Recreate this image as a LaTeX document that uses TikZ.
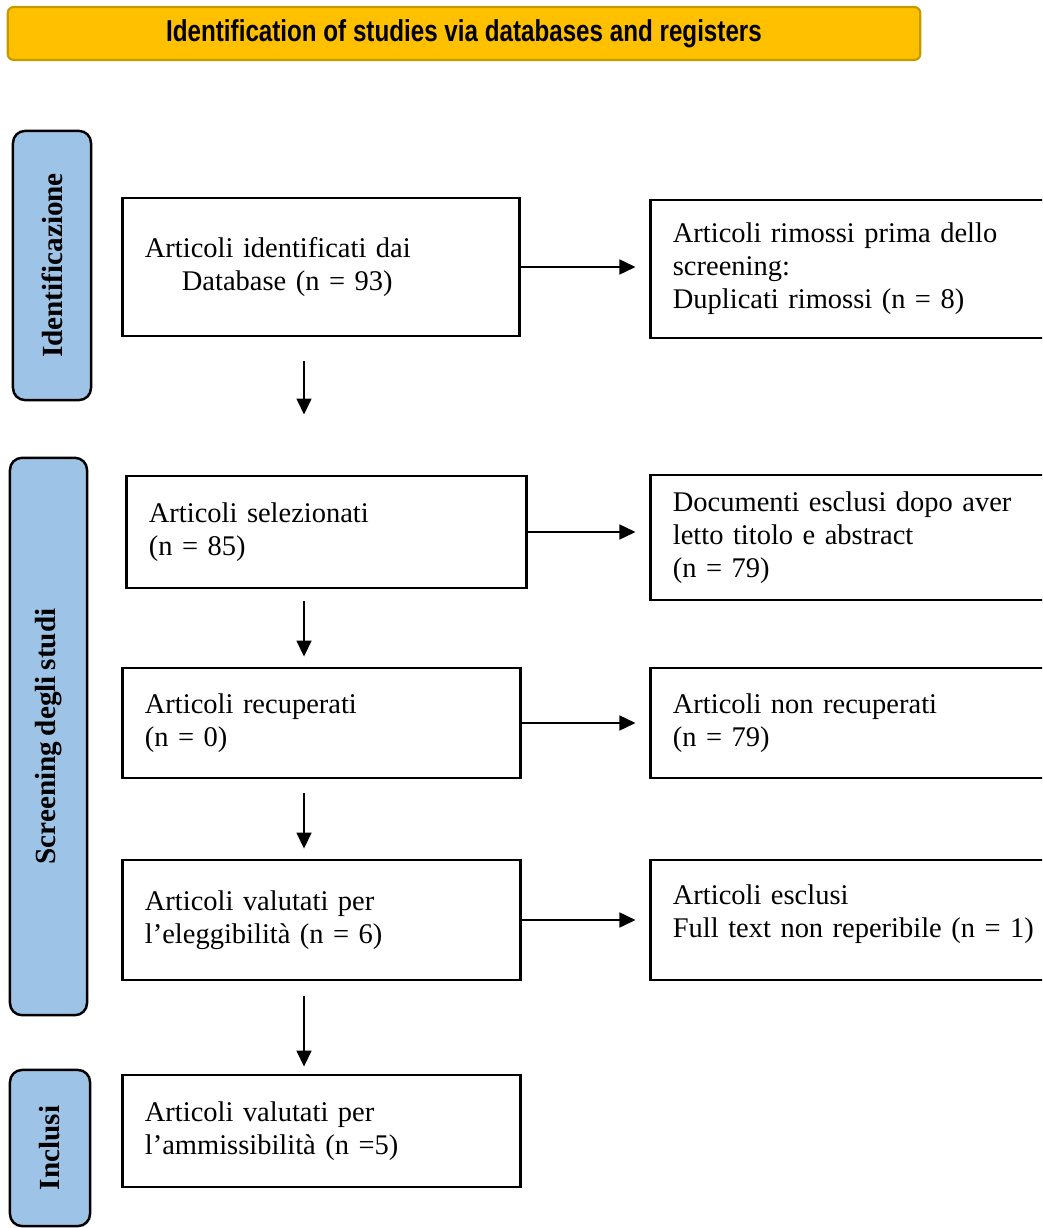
\documentclass[tikz,border=0pt]{standalone}
\usepackage{fontspec}
\setmainfont[WordSpace=0.8]{Liberation Serif}
\newfontfamily\headfont{Liberation Sans}
\usetikzlibrary{arrows.meta}

\definecolor{sidefill}{HTML}{9DC3E6}
\definecolor{headfill}{HTML}{FFC000}
\definecolor{headline}{HTML}{C49A00}

\tikzset{
  box/.style={draw, line width=0.8pt, inner xsep=0.22cm, inner ysep=0pt, align=left,
    font=\fontsize{8.1}{9.4}\selectfont},
  sidebox/.style={draw, line width=0.7pt, fill=sidefill, rounded corners=0.12cm, rotate=90,
    font=\fontsize{8.3}{9.4}\selectfont\bfseries},
  arr/.style={-{Triangle[length=0.16cm,width=0.15cm]}, line width=0.45pt},
}

\begin{document}
\begin{tikzpicture}[x=0.01cm, y=-0.01cm]
        \useasboundingbox (0,0) rectangle (1042,1228);
        \clip (0,0) rectangle (1042,1228);

        % Coordinates
        \coordinate (ax) at (304, 0);

        % Header and phases
        \node[draw=headline, fill=headfill, line width=0.6pt, rounded corners=0.06cm,
          minimum width=9.12cm, minimum height=0.53cm,
          font=\headfont\bfseries\fontsize{8.6}{9}\selectfont] (head) at (464, 33.5)
          {\scalebox{0.8}[1]{Identification of studies via databases and registers}};
        \node[sidebox, minimum width=2.69cm, minimum height=0.78cm] (sid) at (52, 265.5) {Identificazione};
        \node[sidebox, minimum width=5.57cm, minimum height=0.77cm] (sscr) at (48.5, 736.5) {Screening degli studi};
        \node[sidebox, minimum width=1.56cm, minimum height=0.80cm] (sinc) at (50, 1148) {Inclusi};

        % Boxes
        \node[box, text width=3.52cm, minimum height=1.38cm] (b1) at (321, 267)
          {Articoli identificati dai\\\hspace*{0.37cm}Database (n = 93)};
        \node[box, text width=3.55cm, minimum height=1.12cm] (b2) at (326.5, 532)
          {Articoli selezionati\\(n = 85)};
        \node[box, text width=3.53cm, minimum height=1.10cm] (b3) at (321.5, 723)
          {Articoli recuperati\\(n = 0)};
        \node[box, text width=3.53cm, minimum height=1.20cm] (b4) at (321.5, 920)
          {Articoli valutati per\\l’eleggibilità (n = 6)};
        \node[box, text width=3.53cm, minimum height=1.12cm] (b5) at (321.5, 1131)
          {Articoli valutati per\\l’ammissibilità (n =5)};

        \node[box, text width=4.05cm, minimum height=1.38cm] (r1) at (875.5, 269)
          {Articoli rimossi prima dello\\screening:\\Duplicati rimossi (n = 8)};
        \node[box, text width=4.05cm, minimum height=1.25cm] (r2) at (875.5, 537.5)
          {\makebox[3.52cm][s]{Documenti esclusi dopo aver}\\letto titolo e abstract\\(n = 79)};
        \node[box, text width=4.05cm, minimum height=1.10cm] (r3) at (875.5, 723)
          {Articoli non recuperati\\(n = 79)};
        \node[box, text width=4.05cm, minimum height=1.20cm] (r4) at (875.5, 920)
          {Articoli esclusi\\Full text non reperibile (n = 1)\\[-0.15cm]\mbox{}};

        % Arrows
        \draw[arr, shorten <=0.24cm, shorten >=0.60cm] (b1.south -| ax) -- (b2.north -| ax);
        \draw[arr, shorten <=0.12cm, shorten >=0.10cm] (b2.south -| ax) -- (b3.north -| ax);
        \draw[arr, shorten <=0.14cm, shorten >=0.10cm] (b3.south -| ax) -- (b4.north -| ax);
        \draw[arr, shorten <=0.15cm, shorten >=0.07cm] (b4.south -| ax) -- (b5.north -| ax);
        \draw[arr, shorten >=0.14cm] (b1.east) -- (b1.east -| r1.west);
        \draw[arr, shorten >=0.14cm] (b2.east) -- (b2.east -| r2.west);
        \draw[arr, shorten >=0.14cm] (b3.east) -- (b3.east -| r3.west);
        \draw[arr, shorten >=0.14cm] (b4.east) -- (b4.east -| r4.west);
\end{tikzpicture}
\end{document}
